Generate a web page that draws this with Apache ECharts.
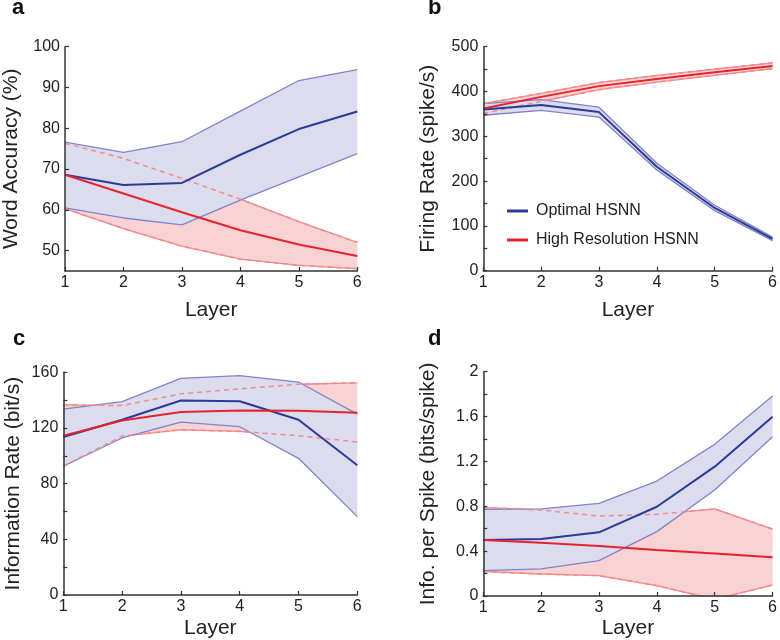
<!DOCTYPE html>
<html>
<head>
<meta charset="utf-8">
<script src="https://cdn.jsdelivr.net/npm/echarts@6/dist/echarts.min.js"></script>
<style>html,body{margin:0;padding:0;background:#fff}#c{width:780px;height:640px}</style>
</head>
<body>
<div id="c"></div>
<script>
// ---------- data ----------
const layers = ['1', '2', '3', '4', '5', '6'];

// a: Word Accuracy (%)
const accOptMean  = [68.6, 66.1, 66.6, 73.5, 79.8, 84.1];
const accOptUpper = [76.6, 74.1, 76.7, 84.2, 91.7, 94.4];
const accOptLower = [60.5, 58.0, 56.3, 62.4, 68.1, 73.8];
const accHrMean   = [68.6, 64.0, 59.4, 55.0, 51.5, 48.7];
const accHrUpper  = [76.3, 72.6, 67.7, 62.6, 57.1, 52.0];
const accHrLower  = [60.3, 55.4, 51.1, 47.9, 46.4, 45.6];
const accTicks  = [50, 60, 70, 80, 90, 100];
const accLabels = [50, 60, 70, 80, 90, 100];

// b: Firing Rate (spike/s)
const rateOptMean  = [360, 370, 354, 232, 140, 71];
const rateOptUpper = [373, 382, 365, 240, 146, 75];
const rateOptLower = [347, 358, 343, 225, 134, 67];
const rateHrMean   = [362, 388, 412, 428, 443, 457];
const rateHrUpper  = [373, 396, 420, 436, 450, 464];
const rateHrLower  = [351, 378, 404, 421, 436, 451];
const rateTicks  = [0, 50, 100, 150, 200, 250, 300, 350, 400, 450, 500];
const rateLabels = [0, 100, 200, 300, 400, 500];

// c: Information Rate (bit/s)
const infoOptMean  = [113.5, 125.9, 139.7, 139.2, 125.9, 93.2];
const infoOptUpper = [133.5, 139.0, 155.7, 157.6, 153.0, 130.0];
const infoOptLower = [92.5, 112.8, 124.2, 120.9, 98.2, 56.3];
const infoHrMean   = [114.4, 125.4, 131.4, 132.6, 132.3, 130.9];
const infoHrUpper  = [136.6, 136.1, 144.5, 148.1, 151.4, 152.4];
const infoHrLower  = [92.5, 114.2, 118.7, 117.5, 114.4, 109.9];
const infoTicks  = [0, 20, 40, 60, 80, 100, 120, 140, 160];
const infoLabels = [0, 40, 80, 120, 160];

// d: Info. per Spike (bits/spike)
const ipsOptMean  = [0.499, 0.508, 0.568, 0.796, 1.153, 1.599];
const ipsOptUpper = [0.773, 0.776, 0.826, 1.025, 1.352, 1.783];
const ipsOptLower = [0.226, 0.241, 0.315, 0.574, 0.945, 1.420];
const ipsHrMean   = [0.499, 0.475, 0.446, 0.410, 0.380, 0.345];
const ipsHrUpper  = [0.788, 0.767, 0.713, 0.728, 0.776, 0.597];
const ipsHrLower  = [0.217, 0.196, 0.181, 0.092, -0.030, 0.098];
const ipsTicks  = [0, 0.2, 0.4, 0.6, 0.8, 1.0, 1.2, 1.4, 1.6, 1.8, 2.0];
const ipsLabels = [0, 0.4, 0.8, 1.2, 1.6, 2];

const seriesNames = ['Optimal HSNN', 'High Resolution HSNN'];

// ---------- style ----------
const C = {
  blueMean: '#2c3a97', blueEdge: '#8183c9', blueFill: '#dcdcef',
  redMean: '#e8222b', redEdge: '#f28a8c', redFill: '#f9d3d4',
  axis: '#333333', text: '#222222'
};
const FONT = 'Liberation Sans, Arial, Helvetica, sans-serif';

const panels = [
  { grid: { left: 63, top: 46.7, width: 294.3, height: 224.3 }, min: 45, max: 100,
    ticks: accTicks, labels: accLabels, yName: 'Word Accuracy (%)', yGap: 43, xGap: 29,
    opt: [accOptMean, accOptUpper, accOptLower], hr: [accHrMean, accHrUpper, accHrLower] },
  { grid: { left: 483.3, top: 46.7, width: 293.4, height: 224 }, min: 0, max: 500,
    ticks: rateTicks, labels: rateLabels, yName: 'Firing Rate (spike/s)', yGap: 45, xGap: 29,
    opt: [rateOptMean, rateOptUpper, rateOptLower], hr: [rateHrMean, rateHrUpper, rateHrLower] },
  { grid: { left: 63.3, top: 372.3, width: 294, height: 223.7 }, min: 0, max: 160,
    ticks: infoTicks, labels: infoLabels, yName: 'Information Rate (bit/s)', yGap: 40, xGap: 23,
    opt: [infoOptMean, infoOptUpper, infoOptLower], hr: [infoHrMean, infoHrUpper, infoHrLower] },
  { grid: { left: 483.3, top: 371.7, width: 293.4, height: 224.3 }, min: 0, max: 2,
    ticks: ipsTicks, labels: ipsLabels, yName: 'Info. per Spike (bits/spike)', yGap: 45, xGap: 22,
    opt: [ipsOptMean, ipsOptUpper, ipsOptLower], hr: [ipsHrMean, ipsHrUpper, ipsHrLower] }
];

const grids = [], xAxes = [], yAxes = [], series = [];

panels.forEach((p, i) => {
  grids.push(Object.assign({ containLabel: false }, p.grid));
  xAxes.push({
    type: 'category', gridIndex: i, data: layers, boundaryGap: false, z: 20,
    name: 'Layer', nameLocation: 'middle', nameGap: p.xGap,
    nameTextStyle: { fontSize: 21, color: C.text, fontFamily: FONT },
    axisLine: { show: true, lineStyle: { color: C.axis, width: 1.5 } },
    axisTick: { show: true, inside: true, length: 4, lineStyle: { color: C.axis, width: 1.2 } },
    axisLabel: { fontSize: 16, color: C.text, fontFamily: FONT, margin: 4 },
    splitLine: { show: false }
  });
  yAxes.push({
    type: 'value', gridIndex: i, min: p.min, max: p.max, z: 20,
    name: p.yName, nameLocation: 'middle', nameGap: p.yGap,
    nameTextStyle: { fontSize: 21, color: C.text, fontFamily: FONT },
    axisLine: { show: true, lineStyle: { color: C.axis, width: 1.5 } },
    axisTick: { show: true, inside: true, length: 4, customValues: p.ticks, lineStyle: { color: C.axis, width: 1.2 } },
    axisLabel: { fontSize: 16, color: C.text, fontFamily: FONT, margin: 5, customValues: p.labels },
    splitLine: { show: false }
  });

  const base = { type: 'line', xAxisIndex: i, yAxisIndex: i, symbol: 'none', showSymbol: false, silent: true, animation: false, clip: true };
  const diff = (u, l) => u.map((v, k) => +(v - l[k]).toFixed(4));
  const [om, ou, ol] = p.opt;
  const [hm, hu, hl] = p.hr;

  // red band fill
  series.push(Object.assign({}, base, { z: 1, name: 'hrBase' + i, data: hl, stack: 'hr' + i, stackStrategy: 'all', lineStyle: { opacity: 0 } }));
  series.push(Object.assign({}, base, { z: 1, name: 'hrBand' + i, data: diff(hu, hl), stack: 'hr' + i, stackStrategy: 'all', lineStyle: { opacity: 0 }, areaStyle: { color: C.redFill, opacity: 1 } }));
  // red band edges (solid)
  series.push(Object.assign({}, base, { z: 2, name: 'hrUp' + i, data: hu, lineStyle: { color: C.redEdge, width: 1.3 } }));
  series.push(Object.assign({}, base, { z: 2, name: 'hrLo' + i, data: hl, lineStyle: { color: C.redEdge, width: 1.3 } }));
  // blue band fill (opaque)
  series.push(Object.assign({}, base, { z: 3, name: 'optBase' + i, data: ol, stack: 'opt' + i, stackStrategy: 'all', lineStyle: { opacity: 0 } }));
  series.push(Object.assign({}, base, { z: 3, name: 'optBand' + i, data: diff(ou, ol), stack: 'opt' + i, stackStrategy: 'all', lineStyle: { opacity: 0 }, areaStyle: { color: C.blueFill, opacity: 1 } }));
  // blue edges
  series.push(Object.assign({}, base, { z: 4, name: 'optUp' + i, data: ou, lineStyle: { color: C.blueEdge, width: 1.3 } }));
  series.push(Object.assign({}, base, { z: 4, name: 'optLo' + i, data: ol, lineStyle: { color: C.blueEdge, width: 1.3 } }));
  // red edges dashed (visible through blue band)
  series.push(Object.assign({}, base, { z: 5, name: 'hrUpD' + i, data: hu, lineStyle: { color: C.redEdge, width: 1.5, type: [5, 4] } }));
  series.push(Object.assign({}, base, { z: 5, name: 'hrLoD' + i, data: hl, lineStyle: { color: C.redEdge, width: 1.5, type: [5, 4] } }));
  // means
  series.push(Object.assign({}, base, { z: 6, name: seriesNames[0], data: om, color: C.blueMean, lineStyle: { color: C.blueMean, width: 2 } }));
  series.push(Object.assign({}, base, { z: 7, name: seriesNames[1], data: hm, color: C.redMean, lineStyle: { color: C.redMean, width: 2 } }));
});

const panelLabel = (t, x, y) => ({
  type: 'text', left: x, top: y,
  style: { text: t, fontSize: 22, fontWeight: 'bold', fill: '#111', fontFamily: FONT }
});

const option = {
  backgroundColor: '#fff',
  animation: false,
  grid: grids, xAxis: xAxes, yAxis: yAxes, series: series,
  legend: {
    data: seriesNames, orient: 'vertical', left: 502, top: 198, z: 20,
    icon: 'rect', itemWidth: 21, itemHeight: 3, itemGap: 13,
    textStyle: { fontSize: 16, color: C.text, fontFamily: FONT, padding: [0, 0, 0, 3] },
    selectedMode: false
  },
  graphic: [
    panelLabel('a', 12, -3),
    panelLabel('b', 428, -3),
    panelLabel('c', 13, 328),
    panelLabel('d', 428, 328)
  ]
};

const chart = echarts.init(document.getElementById('c'), null, { renderer: 'canvas' });
chart.setOption(option);
</script>
</body>
</html>
